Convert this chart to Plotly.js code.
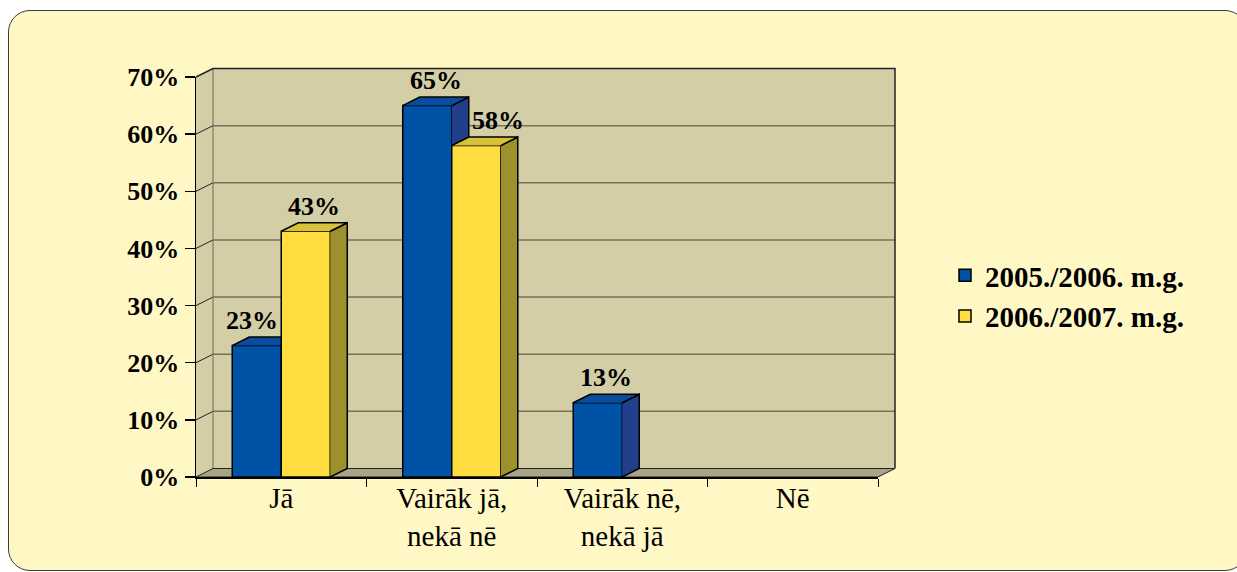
<!DOCTYPE html>
<html>
<head>
<meta charset="utf-8">
<script src="https://cdn.plot.ly/plotly-3.0.1.min.js"></script>
<style>
  html, body { margin: 0; padding: 0; background: #ffffff; overflow: hidden; }
  #frame { position: absolute; left: 8px; top: 10px; width: 1239px; height: 561px;
           box-sizing: border-box; border: 1.5px solid #3a3a3a; border-radius: 22px;
           background: #FFF8C5; }
  #chart { position: absolute; left: 0; top: 0; width: 1237px; height: 572px; }
</style>
</head>
<body>
<div id="frame"></div>
<div id="chart"></div>
<script>
// ---- data ----
const categories = ['Jā', 'Vairāk jā,<br>nekā nē', 'Vairāk nē,<br>nekā jā', 'Nē'];
const seriesNames = ['2005./2006. m.g.', '2006./2007. m.g.'];
const values2005 = [23, 65, 13, 0];
const values2006 = [43, 58, 0, 0];
const yTickValues = [0, 10, 20, 30, 40, 50, 60, 70];
const yTickLabels = ['0%', '10%', '20%', '30%', '40%', '50%', '60%', '70%'];

// ---- geometry / style ----
const W = 1237, H = 572;
const M = { l: 196, r: 359, t: 77, b: 95 };
const plotW = W - M.l - M.r, plotH = H - M.t - M.b;
const yMax = 70;
const nCat = categories.length;
const depthPx = { x: 17, y: 8.5 };
const dxd = depthPx.x / (plotW / nCat);      // depth in category units
const dyd = depthPx.y / (plotH / yMax);      // depth in value units
const dxp = depthPx.x / plotW, dyp = depthPx.y / plotH; // depth in paper units
const bargap = 0.425;
const barW = (1 - bargap) / 2;

const colors = {
  blue: '#0052A6', blueTop: '#0A4D9E', blueSide: '#223F8C',
  yellow: '#FFDD3F', yellowTop: '#D8C23C', yellowSide: '#9D912E',
  wall: '#D3CEA5', floor: '#A9A487', grid: '#77725C'
};
const serif = 'Liberation Serif, Times New Roman, serif';

// ---- 3D faces built from the data ----
const blueTop = { x: [], y: [] }, blueSide = { x: [], y: [] };
const yellowTop = { x: [], y: [] }, yellowSide = { x: [], y: [] };
function addPoly(t, pts) {
  pts.forEach(p => { t.x.push(p[0]); t.y.push(p[1]); });
  t.x.push(null); t.y.push(null);
}
for (let i = 0; i < nCat; i++) {
  const v1 = values2005[i], v2 = values2006[i];
  if (v1 > 0) {
    const xl = i - barW, xr = i;
    if (v2 > v1) {
      addPoly(blueTop, [[xl, v1], [xl + dxd, v1 + dyd], [xr, v1 + dyd], [xr, v1]]);
    } else {
      addPoly(blueTop, [[xl, v1], [xl + dxd, v1 + dyd], [xr + dxd, v1 + dyd], [xr, v1]]);
      addPoly(blueSide, [[xr, v2], [xr + dxd, v2 + dyd], [xr + dxd, v1 + dyd], [xr, v1]]);
    }
  }
  if (v2 > 0) {
    const xl = i, xr = i + barW;
    addPoly(yellowTop, [[xl, v2], [xl + dxd, v2 + dyd], [xr + dxd, v2 + dyd], [xr, v2]]);
    addPoly(yellowSide, [[xr, 0], [xr + dxd, dyd], [xr + dxd, v2 + dyd], [xr, v2]]);
  }
}
function face(t, color) {
  return { type: 'scatter', mode: 'lines', x: t.x, y: t.y, fill: 'toself', fillcolor: color,
           line: { color: '#000', width: 1.5 }, hoverinfo: 'skip', showlegend: false, connectgaps: false };
}
const catIdx = categories.map((c, i) => i);
const traces = [
  { type: 'bar', name: seriesNames[0], x: catIdx, y: values2005.map(v => v || null),
    marker: { color: colors.blue, line: { color: '#000', width: 1.5 } }, hoverinfo: 'y' },
  { type: 'bar', name: seriesNames[1], x: catIdx, y: values2006.map(v => v || null),
    marker: { color: colors.yellow, line: { color: '#000', width: 1.5 } }, hoverinfo: 'y' },
  face(blueSide, colors.blueSide), face(blueTop, colors.blueTop),
  face(yellowSide, colors.yellowSide), face(yellowTop, colors.yellowTop)
];

// ---- value labels ----
const annotations = [];
for (let i = 0; i < nCat; i++) {
  const v1 = values2005[i], v2 = values2006[i];
  const lab = (v, cx, shift) => annotations.push({
    x: cx + dxd / 2, y: v + dyd, xref: 'x', yref: 'y', text: v + '%', showarrow: false,
    yanchor: 'bottom', xshift: shift, font: { family: serif, size: 26, weight: 'bold', color: '#000' }
  });
  if (v1 > 0) lab(v1, i - barW / 2, v2 > v1 ? -13 : 0);
  if (v2 > 0) lab(v2, i + barW / 2, v1 > v2 ? 13 : 0);
}

// ---- walls, floor, back gridlines (paper coordinates) ----
const shapes = [];
shapes.push({ type: 'rect', xref: 'paper', yref: 'paper', x0: dxp, x1: 1 + dxp, y0: dyp, y1: 1 + dyp,
  fillcolor: colors.wall, line: { width: 0 }, layer: 'below' });
shapes.push({ type: 'path', xref: 'paper', yref: 'paper',
  path: `M0,0 L0,1 L${dxp},${1 + dyp} L${dxp},${dyp} Z`,
  fillcolor: colors.wall, line: { width: 0 }, layer: 'below' });
yTickValues.forEach(t => {
  if (t === 0 || t === yMax) return;
  const ty = t / yMax;
  shapes.push({ type: 'line', xref: 'paper', yref: 'paper', x0: dxp, x1: 1 + dxp, y0: ty + dyp, y1: ty + dyp,
    line: { color: colors.grid, width: 1.5 }, layer: 'below' });
  shapes.push({ type: 'line', xref: 'paper', yref: 'paper', x0: 0, x1: dxp, y0: ty, y1: ty + dyp,
    line: { color: '#222', width: 1 }, layer: 'below' });
});
shapes.push({ type: 'line', xref: 'paper', yref: 'paper', x0: dxp, x1: dxp, y0: dyp, y1: 1 + dyp,
  line: { color: '#6f6b58', width: 1 }, layer: 'below' });
shapes.push({ type: 'path', xref: 'paper', yref: 'paper',
  path: `M0,1 L${dxp},${1 + dyp} L${1 + dxp},${1 + dyp} L${1 + dxp},${dyp}`,
  line: { color: '#222', width: 1.5 }, layer: 'below' });
shapes.push({ type: 'path', xref: 'paper', yref: 'paper',
  path: `M0,0 L1,0 L${1 + dxp},${dyp} L${dxp},${dyp} Z`,
  fillcolor: colors.floor, line: { color: '#222', width: 1 }, layer: 'below' });

const layout = {
  width: W, height: H, margin: M,
  paper_bgcolor: 'rgba(0,0,0,0)', plot_bgcolor: 'rgba(0,0,0,0)',
  barmode: 'group', bargap: bargap, bargroupgap: 0,
  showlegend: true,
  legend: { x: (945 - M.l) / plotW, xanchor: 'left', y: (477 - 250) / plotH, yanchor: 'top',
            bgcolor: 'rgba(0,0,0,0)', font: { family: serif, size: 29, weight: 'bold', color: '#000' },
            traceorder: 'normal' },
  xaxis: { type: 'linear', range: [-0.5, nCat - 0.5], tickvals: catIdx, ticktext: categories,
           ticks: '', showgrid: false, zeroline: false, showline: true, linecolor: '#000', linewidth: 1.5,
           tickfont: { family: serif, size: 29, color: '#000' }, ticklabelstandoff: -5,
           minor: { dtick: 1, tick0: -0.5, ticks: 'outside', ticklen: 8, tickcolor: '#000', tickwidth: 1, showgrid: false },
           fixedrange: true },
  yaxis: { range: [0, yMax], tickvals: yTickValues, ticktext: yTickLabels, ticks: 'outside', ticklen: 10,
           tickcolor: '#000', tickwidth: 1.5, showgrid: false, zeroline: false, showline: true,
           linecolor: '#000', linewidth: 1.5,
           tickfont: { family: serif, size: 26, weight: 'bold', color: '#000' }, fixedrange: true },
  shapes: shapes, annotations: annotations
};
Plotly.newPlot('chart', traces, layout, { displayModeBar: false, staticPlot: true });
</script>
</body>
</html>
